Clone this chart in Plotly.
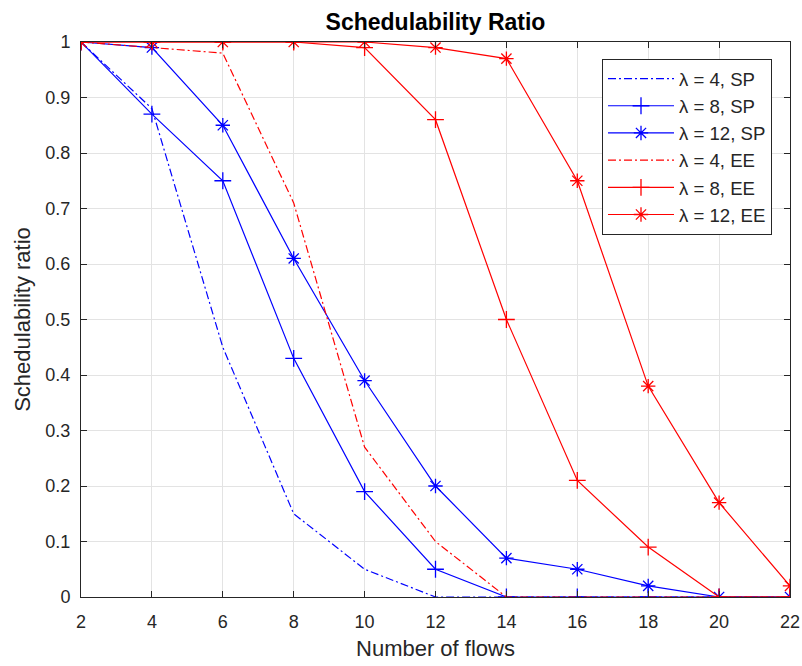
import plotly.graph_objects as go

flows = [2, 4, 6, 8, 10, 12, 14, 16, 18, 20, 22]
sp_l4 = [1.00, 0.88, 0.45, 0.15, 0.05, 0.00, 0.00, 0.00, 0.00, 0.00, 0.00]
sp_l8 = [1.00, 0.87, 0.75, 0.43, 0.19, 0.05, 0.00, 0.00, 0.00, 0.00, 0.00]
sp_l12 = [1.00, 0.99, 0.85, 0.61, 0.39, 0.20, 0.07, 0.05, 0.02, 0.00, 0.00]
ee_l4 = [1.00, 0.99, 0.98, 0.71, 0.27, 0.10, 0.00, 0.00, 0.00, 0.00, 0.00]
ee_l8 = [1.00, 1.00, 1.00, 1.00, 0.99, 0.86, 0.50, 0.21, 0.09, 0.00, 0.00]
ee_l12 = [1.00, 1.00, 1.00, 1.00, 1.00, 0.99, 0.97, 0.75, 0.38, 0.17, 0.02]
yticks = [0, 0.1, 0.2, 0.3, 0.4, 0.5, 0.6, 0.7, 0.8, 0.9, 1]
ytick_text = ["0", "0.1", "0.2", "0.3", "0.4", "0.5", "0.6", "0.7", "0.8", "0.9", "1"]

series = [
    ("λ = 4, SP", sp_l4, "#0000ff", "8px,3px,2px,3px", None),
    ("λ = 8, SP", sp_l8, "#0000ff", "solid", "cross-thin-open"),
    ("λ = 12, SP", sp_l12, "#0000ff", "solid", "asterisk-open"),
    ("λ = 4, EE", ee_l4, "#ff0000", "8px,3px,2px,3px", None),
    ("λ = 8, EE", ee_l8, "#ff0000", "solid", "cross-thin-open"),
    ("λ = 12, EE", ee_l12, "#ff0000", "solid", "asterisk-open"),
]

FONT = "Liberation Sans, Arial, sans-serif"
fig = go.Figure()
for name, ys, col, dash, sym in series:
    kw = dict(x=flows, y=ys, name=name, line=dict(color=col, width=1.2, dash=dash))
    if sym:
        fig.add_trace(go.Scatter(mode="lines+markers",
                                 marker=dict(symbol=sym, size=12, color=col,
                                             line=dict(color=col, width=1.3)), **kw))
    else:
        fig.add_trace(go.Scatter(mode="lines", **kw))

tick_font = dict(family=FONT, size=18, color="#262626")
fig.update_layout(
    width=802, height=666,
    margin=dict(l=81, r=12, t=42, b=69),
    paper_bgcolor="white", plot_bgcolor="white",
    title=dict(text="<b>Schedulability Ratio</b>", x=0.5, xref="paper", xanchor="center",
               y=1 - 22 / 666, yref="container", yanchor="middle",
               font=dict(family=FONT, size=23, color="black")),
    font=tick_font,
    showlegend=True,
    legend=dict(x=(772 - 81) / 709, y=(597 - 59) / 555, xanchor="right", yanchor="top",
                bgcolor="white", bordercolor="#262626", borderwidth=1,
                font=dict(family=FONT, size=18.6, color="#262626"),
                itemwidth=66),
    xaxis=dict(range=[2, 22], tickvals=flows, ticks="inside", ticklen=6, tickcolor="#262626",
               showline=True, linecolor="#262626", linewidth=1, mirror="ticks",
               showgrid=True, gridcolor="#e3e3e3", gridwidth=1, zeroline=False,
               ticklabelstandoff=8, automargin=False,
               title=dict(text="Number of flows", font=dict(family=FONT, size=22, color="#262626"),
                          standoff=10),
               tickfont=tick_font),
    yaxis=dict(range=[0, 1], tickvals=yticks, ticktext=ytick_text,
               ticks="inside", ticklen=6, tickcolor="#262626",
               showline=True, linecolor="#262626", linewidth=1, mirror="ticks",
               showgrid=True, gridcolor="#e3e3e3", gridwidth=1, zeroline=False,
               ticklabelstandoff=6, automargin=False,
               title=dict(text="Schedulability ratio", font=dict(family=FONT, size=22, color="#262626"),
                          standoff=8),
               tickfont=tick_font),
)

fig.write_html("out.html", config={"displayModeBar": False},
               post_script="document.body.style.margin='0';")
